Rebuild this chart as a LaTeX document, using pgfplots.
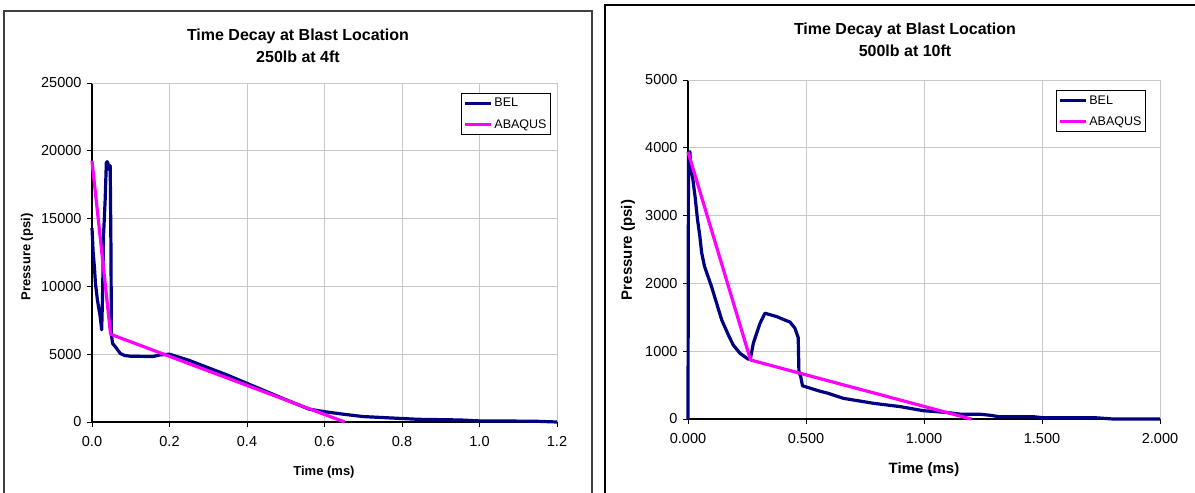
\documentclass[border=0pt]{standalone}
\usepackage{pgfplots}
\pgfplotsset{compat=1.18}
\usepackage{fontspec}
\setmainfont{Liberation Sans}
\definecolor{bel}{HTML}{000080}
\definecolor{abq}{HTML}{FF00FF}
\definecolor{gridc}{HTML}{C8C8C8}
\pgfplotsset{
  excel/.style={
    scale only axis,
    axis x line*=bottom, axis y line*=left,
    axis line style={black, line width=1.1pt, -},
    tick align=outside,
    major tick length=5pt,
    tick style={black, line width=0.9pt},
    grid=major,
    major grid style={gridc, line width=0.9pt},
    ymin=0,
    scaled ticks=false,
    /pgf/number format/assume math mode=true,
    ticklabel style={font=\fontsize{14.5}{16}\selectfont},
    x tick label style={anchor=north, yshift=-6pt},
    y tick label style={anchor=east, xshift=-2pt},
    legend cell align=left,
    legend style={draw=black, line width=0.8pt, fill=white,
      font=\fontsize{12.5}{14}\selectfont, inner xsep=2pt, inner ysep=3pt,
      row sep=7pt},
    legend image code/.code={\draw[#1, line width=3.2pt] (0pt,0pt) -- (26pt,0pt);},
    clip=false,
  }
}
\begin{document}
\begin{tikzpicture}
\path[use as bounding box] (0,0) rectangle (1195pt,493pt);
% chart boxes
\draw[black!75, line width=1.6pt] (4pt,-5pt) -- (4pt,482pt) -- (592pt,482pt) -- (592pt,-5pt);
\draw[black, line width=1.4pt] (605pt,-5pt) -- (605pt,488pt) -- (1205pt,488pt);
% titles
\node[font=\fontsize{16}{22}\selectfont\bfseries, align=center] at (298pt,447pt) {Time Decay at Blast Location\\250lb at 4ft};
\node[font=\fontsize{16}{22}\selectfont\bfseries, align=center] at (905pt,453pt) {Time Decay at Blast Location\\500lb at 10ft};
% axis labels
\node[font=\fontsize{13}{15}\selectfont\bfseries, rotate=90] at (27pt,236pt) {Pressure (psi)};
\node[font=\fontsize{13}{15}\selectfont\bfseries] at (324pt,21pt) {Time (ms)};
\node[font=\fontsize{15}{17}\selectfont\bfseries, rotate=90] at (628pt,243pt) {Pressure (psi)};
\node[font=\fontsize{15}{17}\selectfont\bfseries] at (924pt,23pt) {Time (ms)};

\begin{axis}[excel,
  at={(92pt,71pt)}, anchor=south west,
  width=465pt, height=339pt,
  xmin=0, xmax=1.2, ymax=25000,
  xtick={0,0.2,0.4,0.6,0.8,1.0,1.2},
  xticklabels={0.0,0.2,0.4,0.6,0.8,1.0,1.2},
  ytick={0,5000,10000,15000,20000,25000},
  yticklabels={0,5000,10000,15000,20000,25000},
  legend style={at={(0.987,0.971)}, anchor=north east},
]
\draw[gridc, line width=0.9pt] (rel axis cs:0,1) -- (rel axis cs:1,1) -- (rel axis cs:1,0);
\addplot[bel, line width=3.2pt, line join=round] coordinates {
(0.000,14300) (0.003,12500) (0.006,11500) (0.009,10200) (0.014,9000)
(0.018,8300) (0.021,7800) (0.025,6800) (0.027,9000) (0.030,13900)
(0.034,16400) (0.037,19100) (0.039,19200) (0.041,19100) (0.044,18600)
(0.047,18900) (0.049,12500) (0.050,6500) (0.053,5800) (0.063,5450)
(0.073,5050) (0.085,4900) (0.100,4850) (0.157,4830) (0.176,4950)
(0.200,5000) (0.250,4550) (0.300,4000) (0.350,3450) (0.400,2850)
(0.450,2250) (0.500,1650) (0.560,950) (0.600,760) (0.650,570)
(0.700,400) (0.770,300) (0.840,200) (0.950,150) (1.000,80)
(1.140,60) (1.200,0)
};
\addlegendentry{BEL}
\addplot[abq, line width=3.2pt, line join=round] coordinates {
(0.000,19250) (0.048,6470) (0.652,0)
};
\addlegendentry{ABAQUS}
\end{axis}

\begin{axis}[excel,
  at={(688pt,74pt)}, anchor=south west,
  width=472pt, height=339pt,
  xmin=0, xmax=2.0, ymax=5000,
  xtick={0,0.5,1.0,1.5,2.0},
  xticklabels={0.000,0.500,1.000,1.500,2.000},
  ytick={0,1000,2000,3000,4000,5000},
  yticklabels={0,1000,2000,3000,4000,5000},
  legend style={at={(0.970,0.970)}, anchor=north east},
]
\draw[gridc, line width=0.9pt] (rel axis cs:0,1) -- (rel axis cs:1,1) -- (rel axis cs:1,0);
\addplot[bel, line width=3.2pt, line join=round] coordinates {
(0.000,0) (0.002,3930) (0.008,3940) (0.012,3700) (0.020,3550)
(0.030,3280) (0.040,2950) (0.050,2700) (0.058,2450) (0.070,2250)
(0.080,2150) (0.090,2050) (0.100,1950) (0.121,1710) (0.143,1460)
(0.171,1240) (0.192,1090) (0.220,970) (0.240,920) (0.256,880)
(0.265,900) (0.277,1120) (0.305,1410) (0.326,1560) (0.376,1510)
(0.410,1460) (0.432,1430) (0.453,1340) (0.467,1200) (0.470,700)
(0.478,620) (0.485,490) (0.559,410) (0.593,380) (0.658,305)
(0.787,231) (0.900,182) (0.996,123) (1.100,95) (1.157,70)
(1.238,70) (1.280,55) (1.318,34) (1.464,34) (1.500,20)
(1.720,20) (1.800,0) (2.000,0)
};
\addlegendentry{BEL}
\addplot[abq, line width=3.2pt, line join=round] coordinates {
(0.000,3940) (0.265,870) (1.200,0)
};
\addlegendentry{ABAQUS}
\end{axis}
\end{tikzpicture}
\end{document}
